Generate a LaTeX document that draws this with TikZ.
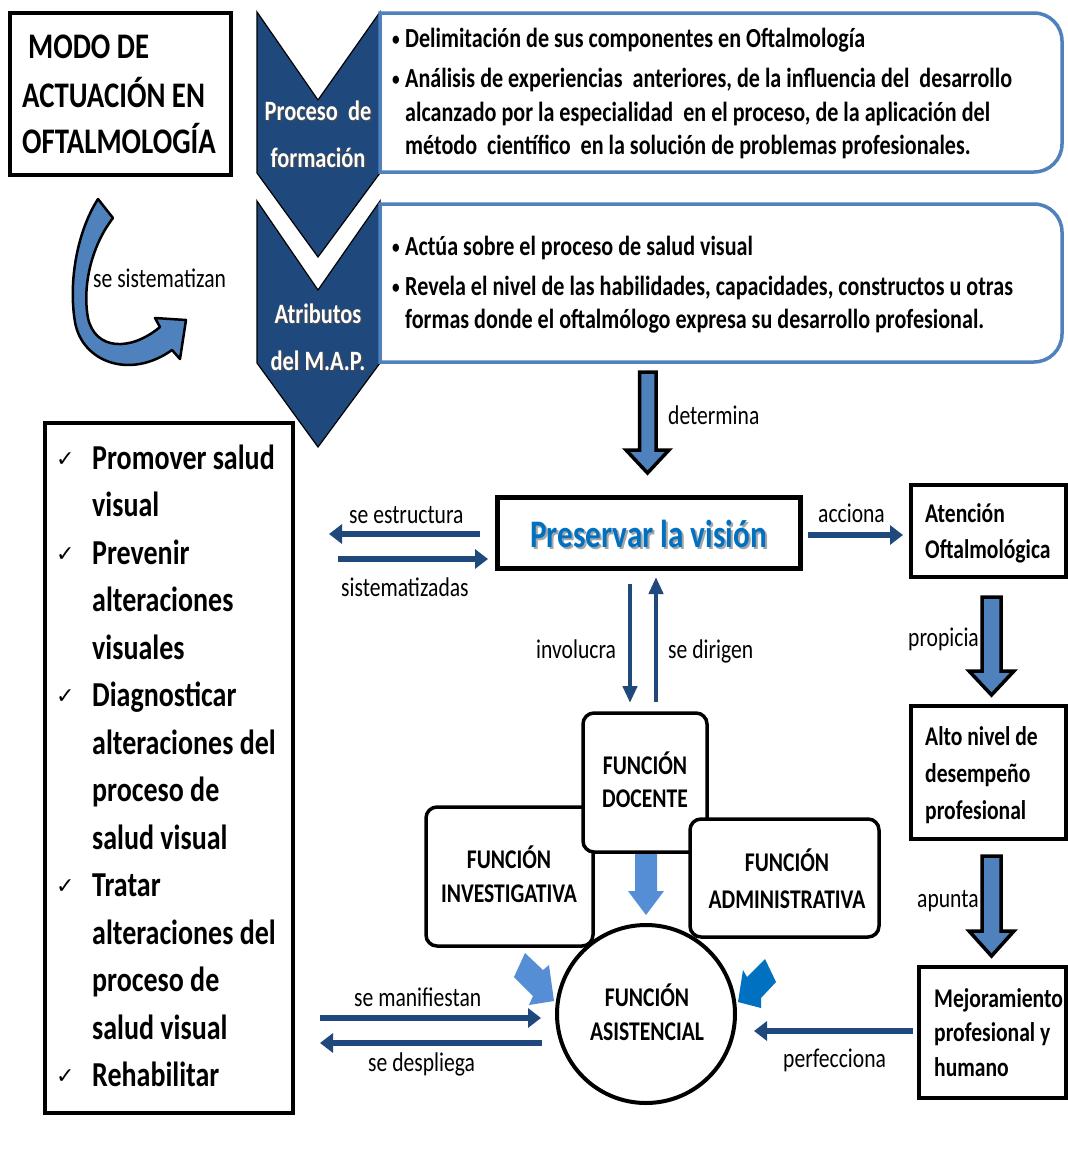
\documentclass[tikz,border=0pt]{standalone}
\usepackage{fontspec}
\setmainfont{Carlito}[FakeStretch=0.8]
\newfontfamily\symfont{DejaVu Sans}
\usetikzlibrary{arrows.meta}
\definecolor{chev}{RGB}{31,73,125}
\definecolor{boxblue}{RGB}{79,129,189}
\definecolor{darrow}{RGB}{31,73,125}
\definecolor{midblue}{RGB}{79,129,189}
\definecolor{lightblue}{RGB}{85,142,213}
\definecolor{brightblue}{RGB}{0,112,192}
\tikzset{
  lbl/.style={font=\fontsize{27}{32}\selectfont, inner sep=0pt, anchor=base west},
  bt/.style={font=\bfseries\fontsize{27}{33}\selectfont, inner sep=0pt, anchor=base west},
  btx/.style={font=\bfseries\fontsize{27.6}{33}\selectfont, inner sep=0pt, anchor=base west},
  bul/.style={font=\bfseries\fontsize{19}{33}\selectfont, inner sep=0pt, anchor=base west},
  btc/.style={font=\bfseries\fontsize{27}{33}\selectfont, inner sep=0pt, anchor=base},
  chk/.style={font=\bfseries\fontsize{35}{47}\selectfont, inner sep=0pt, anchor=base west},
  chkmark/.style={font=\symfont\fontsize{22}{26}\selectfont, inner sep=0pt, anchor=base west},
  ttl/.style={font=\bfseries\fontsize{36}{47}\selectfont, inner sep=0pt, anchor=base west},
  chevtxt/.style={font=\bfseries\fontsize{28}{34}\selectfont, text=white, inner sep=0pt, anchor=base},
  chevshadow/.style={font=\bfseries\fontsize{28}{34}\selectfont, text=black!70, inner sep=0pt, anchor=base},
  sqbox/.style={draw=black, line width=4pt, fill=white, inner sep=0pt},
  fbox/.style={draw=black, line width=3.5pt, rounded corners=11pt, fill=white, inner sep=0pt},
  hthin/.style={draw=darrow, line width=6pt, -{Triangle[width=19pt,length=13pt]}},
  vthin/.style={draw=darrow, line width=4.8pt, -{Triangle[width=14pt,length=17pt]}},
  blockarr/.style={fill=midblue, draw=black, line width=3.5pt, line join=miter},
  chevron/.style={fill=chev, draw=black, line width=1.2pt, line join=miter},
  bluebox/.style={draw=boxblue, line width=3.5pt, fill=white},
}
\begin{document}
\begin{tikzpicture}[x=1pt,y=-1pt]
\useasboundingbox (0,0) rectangle (1068,1149);
\fill[white] (0,0) rectangle (1068,1149);

% ---------- title box ----------
\node[sqbox, minimum width=221pt, minimum height=162pt] (title) at (120.5,94) {};
\node[ttl] (t1) at (28,58) {MODO DE};
\node[ttl] (t2) at (22,107) {ACTUACIÓN EN};
\node[ttl] (t3) at (22,153) {OFTALMOLOGÍA};

% ---------- chevrons ----------
\draw[chevron] (257,12) -- (318,100) -- (380,12) -- (380,173) -- (318,257) -- (257,173) -- cycle;
\draw[chevron] (257,201) -- (318,290) -- (380,201) -- (380,363) -- (318,447) -- (257,363) -- cycle;
\node[chevshadow] at (319.5,121.5) {Proceso\ \ de};
\node[chevtxt] (c1a) at (318,120) {Proceso\ \ de};
\node[chevshadow] at (319.5,168.5) {formación};
\node[chevtxt] (c1b) at (318,167) {formación};
\node[chevshadow] at (319.5,324.5) {Atributos};
\node[chevtxt] (c2a) at (318,323) {Atributos};
\node[chevshadow] at (319.5,371.5) {del M.A.P.};
\node[chevtxt] (c2b) at (318,370) {del M.A.P.};

% ---------- blue rounded boxes ----------
\draw[bluebox] (380,13) -- (1034,13) arc[start angle=-90, end angle=0, radius=28] -- (1062,144) arc[start angle=0, end angle=90, radius=28] -- (380,172) -- cycle;
\draw[bluebox] (380,204) -- (1034,204) arc[start angle=-90, end angle=0, radius=28] -- (1062,334) arc[start angle=0, end angle=90, radius=28] -- (380,362) -- cycle;

\node[bul] (b1) at (392,45) {•};
\node[btx] (l1) at (405,47) {Delimitación de sus componentes en Oftalmología};
\node[bul] (b2) at (392,85) {•};
\node[btx] (l2) at (405,87) {Análisis de experiencias\ \ anteriores, de la influencia del\ \ desarrollo};
\node[btx] (l3) at (405,121) {alcanzado por la especialidad\ \ en el proceso, de la aplicación del};
\node[btx] (l4) at (405,154) {método\ \ científico\ \ en la solución de problemas profesionales.};
\node[bul] (b3) at (392,253) {•};
\node[btx] (l5) at (405,255) {Actúa sobre el proceso de salud visual};
\node[bul] (b4) at (392,293) {•};
\node[btx] (l6) at (405,295) {Revela el nivel de las habilidades, capacidades, constructos u otras};
\node[btx] (l7) at (405,328) {formas donde el oftalmólogo expresa su desarrollo profesional.};

% ---------- curved arrow ----------
\draw[fill=midblue, draw=black, line width=2.5pt, line join=round]
  (98,199) -- (113,218)
  .. controls (92,245) and (82,285) .. (88,318)
  .. controls (95,350) and (130,352) .. (160,327)
  -- (155,318) -- (186,320) -- (180,359) -- (172,350)
  .. controls (130,380) and (82,362) .. (75,322)
  .. controls (68,280) and (78,230) .. (98,199) -- cycle;
\node[lbl] (sesist) at (93,287) {se sistematizan};

% ---------- checklist ----------
\node[sqbox, minimum width=248pt, minimum height=690pt] (list) at (168.5,768) {};
\foreach \txt [count=\i from 0] in {Promover salud, visual, Prevenir, alteraciones, visuales, Diagnosticar, alteraciones del, proceso de, salud visual, Tratar, alteraciones del, proceso de, salud visual, Rehabilitar}{
  \node[chk] (li\i) at (92,469+47.5*\i) {\txt};
}
\foreach \i in {0,2,5,9,13}{
  \node[chkmark] (ck\i) at (56,466+47.5*\i) {✓};
}

% ---------- Preservar la vision ----------
\node[sqbox, line width=5pt, minimum width=303pt, minimum height=71pt] (pres) at (648.5,532.5) {};
\node[font=\bfseries\fontsize{39}{45}\selectfont, text=black!35, inner sep=0pt, anchor=base] at (650.5,549) {Preservar la visión};
\node[font=\bfseries\fontsize{39}{45}\selectfont, text=brightblue, inner sep=0pt, anchor=base] (prestxt) at (648.5,547) {Preservar la visión};

% determina block arrow
\draw[blockarr] (639.5,372) -- (656,372) -- (656,450) -- (669,450) -- (647.5,473) -- (626,450) -- (639.5,450) -- cycle;
\node[lbl] (det) at (668,424) {determina};

% left arrows
\coordinate (pl1) at (480,534);
\coordinate (pl2) at (329,534);
\coordinate (pl3) at (338,559);
\coordinate (pl4) at (488,559);
\draw[hthin] (pl1) -- (pl2);
\draw[hthin] (pl3) -- (pl4);
\node[lbl] (seestr) at (349,523) {se estructura};
\node[lbl] (sistz) at (341,596) {sistematizadas};

% ---------- right column ----------
\node[sqbox, minimum width=155pt, minimum height=92pt] (aten) at (988.5,531) {};
\node[bt] (a1) at (925,522) {Atención};
\node[bt] (a2) at (925,558) {Oftalmológica};
\coordinate (acc1) at (808,535);
\coordinate (acc2) at (903,535);
\draw[hthin] (acc1) -- (acc2);
\node[lbl] (accl) at (818,522) {acciona};

\draw[blockarr] (982,597) -- (1001,597) -- (1001,671) -- (1014,671) -- (991.5,695) -- (969,671) -- (982,671) -- cycle;
\node[lbl] (prop) at (908,646) {propicia};

\node[sqbox, minimum width=155pt, minimum height=133pt] (alto) at (988.5,772.5) {};
\node[bt] (al1) at (925,745) {Alto nivel de};
\node[bt] (al2) at (925,782) {desempeño};
\node[bt] (al3) at (925,819) {profesional};

\draw[blockarr] (982,856) -- (1001,856) -- (1001,931) -- (1014,931) -- (991.5,956) -- (969,931) -- (982,931) -- cycle;
\node[lbl] (apun) at (917,907) {apunta};

\node[sqbox, minimum width=147pt, minimum height=131pt] (mejo) at (992.5,1032.5) {};
\node[bt] (m1) at (934,1007) {Mejoramiento};
\node[bt] (m2) at (934,1041) {profesional y};
\node[bt] (m3) at (934,1076) {humano};

% ---------- functions ----------
\node[fbox, minimum width=167pt, minimum height=139pt] (inv) at (509.5,876.5) {};
\node[fbox, minimum width=124pt, minimum height=139pt] (doc) at (645,782.5) {};
\node[fbox, minimum width=189pt, minimum height=118pt] (adm) at (784.5,878) {};
\node[circle, draw=black, line width=4pt, fill=white, minimum size=178pt, inner sep=0pt] (asis) at (646,1014) {};

\node[btc] (d1) at (645,774) {FUNCIÓN};
\node[btc] (d2) at (645,807) {DOCENTE};
\node[btc] (i1) at (509,868) {FUNCIÓN};
\node[btc] (i2) at (509,902) {INVESTIGATIVA};
\node[btc] (ad1) at (787,871) {FUNCIÓN};
\node[btc] (ad2) at (787,908) {ADMINISTRATIVA};
\node[btc] (as1) at (647,1006) {FUNCIÓN};
\node[btc] (as2) at (647,1040) {ASISTENCIAL};

% involucra / se dirigen
\coordinate (iv1) at (630,584);
\coordinate (iv2) at (630,703);
\coordinate (sd1) at (656,702);
\coordinate (sd2) at (656,577);
\draw[vthin] (iv1) -- (iv2);
\draw[vthin] (sd1) -- (sd2);
\node[lbl] (invl) at (536,658) {involucra};
\node[lbl] (sedir) at (668,658) {se dirigen};

% arrows into asistencial
\fill[lightblue] (635,854) -- (657,854) -- (657,891) -- (664,891) -- (646,915) -- (628,891) -- (635,891) -- cycle;
\fill[lightblue] (525,953) -- (543,970) -- (549,965) -- (554,1001) -- (529,1005) -- (533,996) -- (514,977) -- cycle;
\fill[brightblue] (765,959) -- (776,982) -- (761,998) -- (761,1008) -- (738,1002) -- (743,970) -- (747,977) -- cycle;

% bottom arrows
\coordinate (mf1) at (320,1018);
\coordinate (mf2) at (541,1018);
\coordinate (dp1) at (542,1043);
\coordinate (dp2) at (320,1043);
\draw[hthin] (mf1) -- (mf2);
\draw[hthin] (dp1) -- (dp2);
\node[lbl] (seman) at (354,1006) {se manifiestan};
\node[lbl] (sedes) at (368,1071) {se despliega};

\coordinate (pf1) at (913,1031);
\coordinate (pf2) at (754,1031);
\draw[hthin] (pf1) -- (pf2);
\node[lbl] (perf) at (783,1067) {perfecciona};
\end{tikzpicture}
\end{document}
